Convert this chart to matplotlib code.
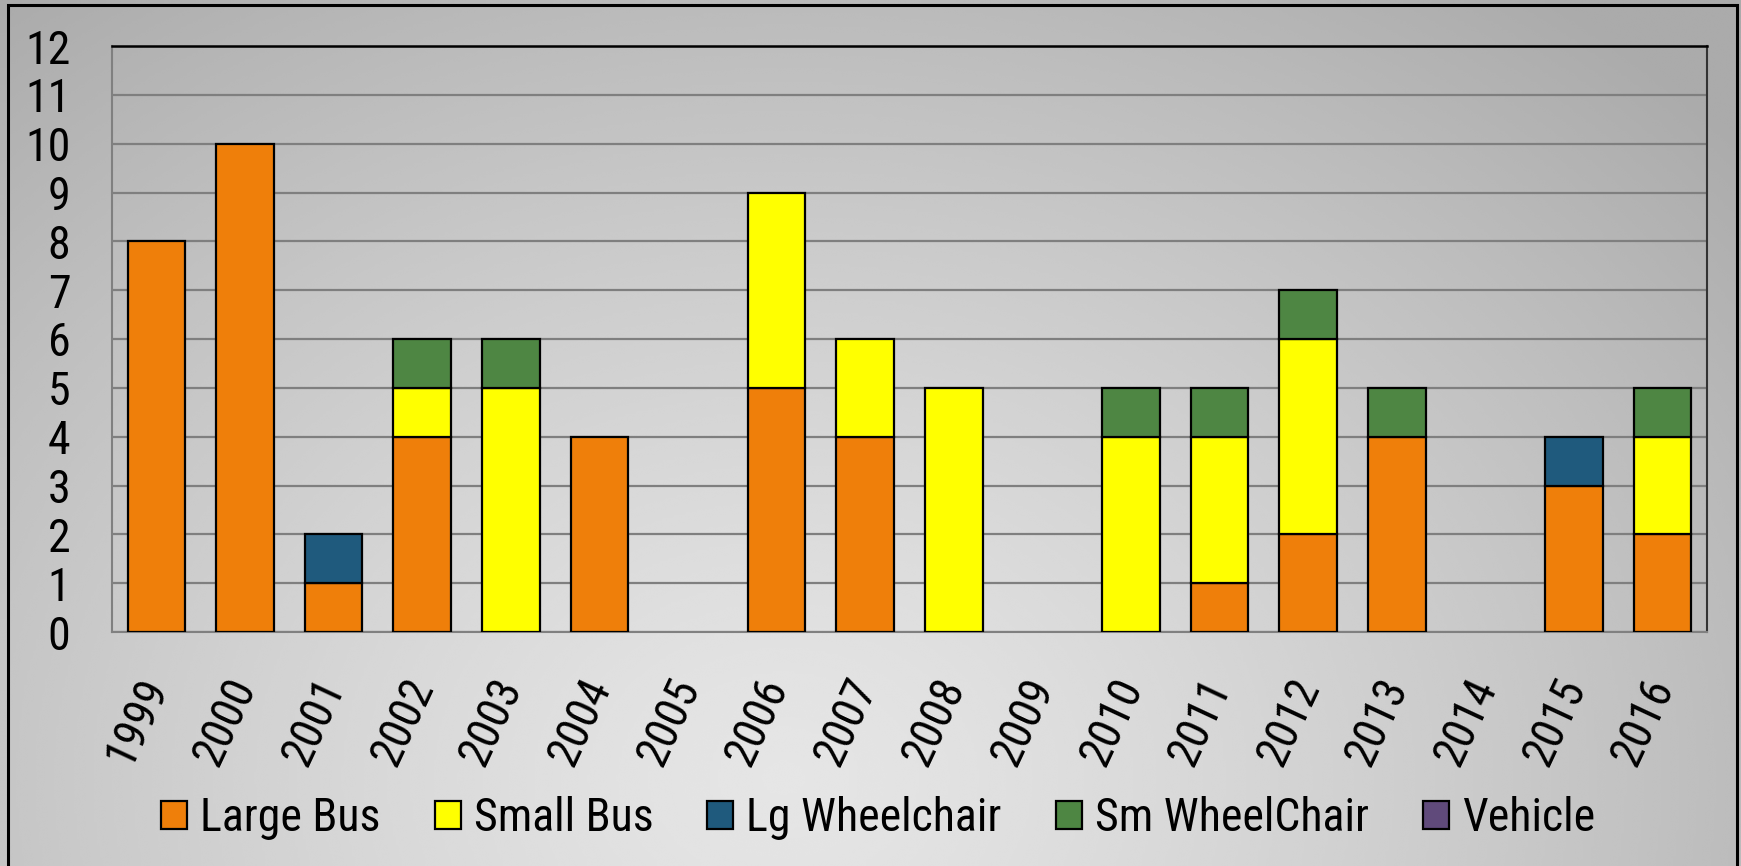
import numpy as np
import matplotlib
matplotlib.use("Agg")
import matplotlib.pyplot as plt
from matplotlib import font_manager
from matplotlib.patches import Rectangle

years = ["1999", "2000", "2001", "2002", "2003", "2004", "2005", "2006", "2007",
         "2008", "2009", "2010", "2011", "2012", "2013", "2014", "2015", "2016"]
large_bus     = [8, 10, 1, 4, 0, 4, 0, 5, 4, 0, 0, 0, 1, 2, 4, 0, 3, 2]
small_bus     = [0, 0, 0, 1, 5, 0, 0, 4, 2, 5, 0, 4, 3, 4, 0, 0, 0, 2]
lg_wheelchair = [0, 0, 1, 0, 0, 0, 0, 0, 0, 0, 0, 0, 0, 0, 0, 0, 1, 0]
sm_wheelchair = [0, 0, 0, 1, 1, 0, 0, 0, 0, 0, 0, 1, 1, 1, 1, 0, 0, 1]
vehicle       = [0] * 18

series_names = ["Large Bus", "Small Bus", "Lg Wheelchair", "Sm WheelChair", "Vehicle"]
series_vals = [large_bus, small_bus, lg_wheelchair, sm_wheelchair, vehicle]
colors = ["#EF7F0A", "#FFFF00", "#1F5A7D", "#4E8643", "#604A7B"]

avail = {f.name for f in font_manager.fontManager.ttflist}
fams = [f for f in ["Roboto Condensed", "PT Sans Narrow", "Archivo Narrow", "Liberation Sans"]
        if f in avail] + ["DejaVu Sans"]
plt.rcParams['font.family'] = fams
fs = 33

W, H = 1741, 866
fig = plt.figure(figsize=(W / 100, H / 100), dpi=100)

# background gradient
bg = fig.add_axes([0, 0, 1, 1], zorder=-10)
yy, xx = np.mgrid[0:1:300j, 0:1:600j]
d = np.sqrt(((xx - 0.45) / 0.72) ** 2 + ((yy - 0.9) / 1.15) ** 2)
val = 0.90 - 0.23 * np.clip(d, 0, 1) ** 1.3
bg.imshow(val, cmap="gray", vmin=0, vmax=1, extent=[0, 1, 0, 1], aspect="auto",
          interpolation="bicubic", origin="upper")
bg.set_xlim(0, 1)
bg.set_ylim(0, 1)
bg.axis("off")
bg.add_patch(Rectangle((8 / W, -0.01), (1737 - 8) / W, 1 - 5 / H + 0.01,
                       fill=False, edgecolor="black", linewidth=2.2))

ax = fig.add_axes([112 / W, 1 - 632 / H, (1707 - 112) / W, (632 - 46) / H])
ax.set_facecolor("none")

x = np.arange(len(years))
bottom = np.zeros(len(years))
handles = []
for name, vals, c in zip(series_names, series_vals, colors):
    v = np.array(vals, dtype=float)
    nz = v > 0
    ax.bar(x[nz], v[nz], 0.65, bottom=bottom[nz], color=c, edgecolor="black",
           linewidth=1.6, zorder=3)
    handles.append(Rectangle((0, 0), 1, 1, facecolor=c, edgecolor="black",
                             linewidth=1.6, label=name))
    bottom += v

ax.set_xlim(-0.5, len(years) - 0.5)
ax.set_ylim(0, 12)
ax.set_yticks(range(0, 13))
ax.set_yticklabels([str(i) for i in range(13)], fontsize=fs)
ax.set_xticks(x)
ax.set_xticklabels(years, fontsize=fs, rotation=65, ha="right", va="center",
                   rotation_mode="anchor")
ax.tick_params(axis="y", length=0, pad=30)
ax.tick_params(axis="x", length=0, pad=35)
ax.yaxis.grid(True, color="#7F7F7F", linewidth=1.6, zorder=0)
ax.set_axisbelow(True)
for s in ["left", "bottom"]:
    ax.spines[s].set_color("#808080")
    ax.spines[s].set_linewidth(1.5)
ax.spines["top"].set_color("black")
ax.spines["top"].set_linewidth(1.8)
ax.spines["right"].set_color("#333333")
ax.spines["right"].set_linewidth(1.5)

leg = fig.legend(handles=handles, labels=series_names, loc="center",
                 bbox_to_anchor=(878 / W, 1 - 818 / H), ncol=5, frameon=False,
                 fontsize=fs, handlelength=0.57, handleheight=0.57,
                 handletextpad=0.28, columnspacing=1.18, borderaxespad=0)

fig.savefig("out.png", dpi=100)
